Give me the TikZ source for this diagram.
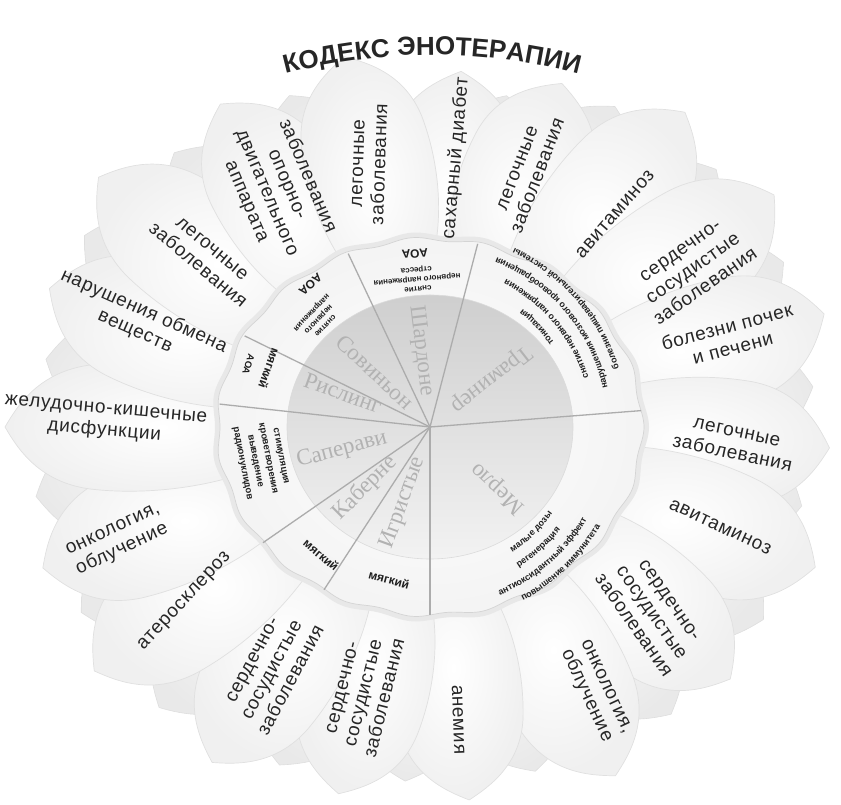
\documentclass[tikz,border=0pt]{standalone}
\usepackage{fontspec}
\setmainfont{Liberation Sans}
\newfontfamily\petalfont[LetterSpace=4]{Liberation Sans}
\newfontfamily\namefont{Liberation Serif}
\usetikzlibrary{decorations.text,calc}

\begin{document}
\begin{tikzpicture}[x=1pt,y=1pt,
  petal/.style={draw=gray!24, line width=0.7pt, inner color=white, outer color=gray!12},
  backpetal/.style={draw=gray!26, line width=0.6pt, inner color=gray!4, outer color=gray!17},
  petaltext/.style={font=\petalfont\fontsize{19}{22}\selectfont, text=black!85, align=center, inner sep=0pt},
  sectorname/.style={font=\namefont\fontsize{23}{23}\selectfont, text=gray!60, inner sep=0pt},
  ringsmall/.style={font=\bfseries\fontsize{8}{9.5}\selectfont, text=black!88, align=center, inner sep=0pt},
  ringmid/.style={font=\bfseries\fontsize{9.5}{13}\selectfont, text=black!88, align=center, inner sep=0pt},
  ringbig/.style={font=\bfseries\fontsize{12}{14}\selectfont, text=black!88, align=center, inner sep=0pt},
  sectorline/.style={draw=gray!65, line width=1.3pt},
  arctext/.style={decorate, decoration={text along path, text align=center, text={|\bfseries\fontsize{9}{10}\selectfont\color{black!88}|#1}}},
]
\useasboundingbox (0,0) rectangle (841,805);
\coordinate (C) at (430,378);
\coordinate (TC) at (432,176);

% second row of petals, peeking out between the front ones
\foreach \a/\R in {77/340, 60/370, 42/385, 25/390, 6/385, -12/380, -30/385, -50/375, -73/360, -94/355, -114/370, -134/390, -152/395, -170/400, 170/390, 151/395, 133/375, 113/360, 94/330}{
  \begin{scope}[shift={(C)}, rotate=\a]
    \shade[backpetal] (110,0) .. controls (150,48) and ({0.6*\R},72) .. ({0.8*\R},62)
      .. controls ({0.92*\R},55) and ({0.97*\R},22) .. (\R,0)
      .. controls ({0.97*\R},-22) and ({0.92*\R},-55) .. ({0.8*\R},-62)
      .. controls ({0.6*\R},-72) and (150,-48) .. (110,0) -- cycle;
  \end{scope}
}

% front petals
\foreach \a/\R in {85/357, 69/368, 51/405, 34/415, 16/410, -3/400, -20/410, -40/392, -62/395, -84/375, -104/378, -123/400, -144/415, -160/412, 180/425, 160/405, 143/415, 123/385, 103/380}{
  \begin{scope}[shift={(C)}, rotate=\a]
    \shade[petal] (110,0) .. controls (150,48) and ({0.6*\R},72) .. ({0.8*\R},62)
      .. controls ({0.92*\R},55) and ({0.97*\R},22) .. (\R,0)
      .. controls ({0.97*\R},-22) and ({0.92*\R},-55) .. ({0.8*\R},-62)
      .. controls ({0.6*\R},-72) and (150,-48) .. (110,0) -- cycle;
  \end{scope}
}

\begin{scope}[shift={(C)}]
  % outer ring with its soft rim
  \fill[gray!18] plot[domain=0:360, samples=361] ({(217+2*cos(19*\x))*cos(\x)}, {(193+2*cos(19*\x))*sin(\x)}) -- cycle;
  \shadedraw[inner color=white, outer color=gray!9, draw=gray!34, line width=0.7pt]
    plot[domain=0:360, samples=361] ({(212+2*cos(19*\x))*cos(\x)}, {(188+2*cos(19*\x))*sin(\x)}) -- cycle;
  % inner disc
  \shade[top color=gray!38, bottom color=gray!10] (0,0) ellipse [x radius=143, y radius=132];
  \draw[gray!28, line width=0.6pt] (0,0) ellipse [x radius=143, y radius=132];

  % sector boundaries
  \foreach \a [count=\i] in {5,77,112.7,151,173,218,240,270}{
    \coordinate (e\i) at (\a:212 and 188);
    \draw[sectorline] (C) -- (e\i);
  }

  % grape varieties
  \node[sectorname, rotate=15]  (saperavi) at (-88,-23) {Саперави};
  \node[sectorname, rotate=-20] (riesling) at (-87,34) {Рислинг};
  \node[sectorname, rotate=-43] (sauvignon) at (-55,55) {Совиньон};
  \node[sectorname, rotate=-83] (chardonnay) at (-9,76) {Шардоне};
  \node[sectorname, rotate=218] (traminer) at (61,48) {Траминер};
  \node[sectorname, rotate=137] (merlot) at (68,-61) {Мерло};
  \node[sectorname, rotate=70]  (sparkling) at (-27,-76) {Игристые};
  \node[sectorname, rotate=45]  (cabernet) at (-65,-61) {Каберне};

  % effects written in the ring
  \node[ringbig, rotate=185] (aoa1) at (95:174) {АОА};
  \node[ringsmall, rotate=185] (chtext) at (95:149) {снятие\\нервного напряжения\\стресса};
  \node[ringbig, rotate=221] (aoa2) at (130:186) {АОА};
  \node[ringsmall, rotate=226] (svtext) at (136:156) {снятие\\нервного\\напряжения};
  \node[ringmid, rotate=252] (aoa3) at (161:192) {АОА};
  \node[ringbig, rotate=250] (rsoft) at (160:171) {мягкий};
  \node[ringmid, rotate=281] (sptext) at (191:172) {стимуляция\\кроветворения\\выведение\\радионуклидов};
  \node[ringbig, rotate=-40] (cbsoft) at (229.6:168) {мягкий};
  \node[ringbig, rotate=-15] (igsoft) at (255:158) {мягкий};
\end{scope}

% curved lines of the Traminer and Merlot sectors
\path[arctext={тонизация}] ($(C)+(28:150)$) arc[start angle=28, end angle=58, radius=150];
\path[arctext={снятие нервного напряжения}] ($(C)+(6:166)$) arc[start angle=6, end angle=74, radius=166];
\path[arctext={нарушения мозгового кровообращения}] ($(C)+(5:182)$) arc[start angle=5, end angle=76, radius=182];
\path[arctext={болезни пищеварительной системы}] ($(C)+(8:198)$) arc[start angle=8, end angle=74, radius=198];

\path[arctext={малые дозы}] ($(C)+(-66:150)$) arc[start angle=-66, end angle=-26, radius=150];
\path[arctext={регенерация}] ($(C)+(-68:166)$) arc[start angle=-68, end angle=-28, radius=166];
\path[arctext={антиоксидантный эффект}] ($(C)+(-82:182)$) arc[start angle=-82, end angle=-16, radius=182];
\path[arctext={повышение иммунитета}] ($(C)+(-72:197)$) arc[start angle=-72, end angle=-20, radius=197];

% indications on the petals
\begin{scope}[shift={(C)}]
  \node[petaltext, rotate=85]  (t1)  at (84.5:270) {сахарный диабет};
  \node[petaltext, rotate=69]  (t2)  at (69:273) {легочные\\заболевания};
  \node[petaltext, rotate=49]  (t3)  at (49:282) {авитаминоз};
  \node[petaltext, rotate=35]  (t4)  at (31:307) {сердечно-\\сосудистые\\заболевания};
  \node[petaltext, rotate=15]  (t5)  at (16.7:313) {болезни почек\\и печени};
  \node[petaltext, rotate=-12] (t6)  at (-3:305) {легочные\\заболевания};
  \node[petaltext, rotate=-25] (t7)  at (-19:307) {авитаминоз};
  \node[petaltext, rotate=-55] (t8)  at (-40:289) {сердечно-\\сосудистые\\заболевания};
  \node[petaltext, rotate=-65] (t9)  at (-58:312) {онкология,\\облучение};
  \node[petaltext, rotate=-88] (t10) at (-84.5:294) {анемия};
  \node[petaltext, rotate=76]  (t11) at (-104:274) {сердечно-\\сосудистые\\заболевания};
  \node[petaltext, rotate=62]  (t12) at (-123:290) {сердечно-\\сосудистые\\заболевания};
  \node[petaltext, rotate=47]  (t13) at (-144.5:301) {атеросклероз};
  \node[petaltext, rotate=25]  (t14) at (-160:332) {онкология,\\облучение};
  \node[petaltext, rotate=-5]  (t15) at (-181:325) {желудочно-кишечные\\дисфункции};
  \node[petaltext, rotate=-24] (t16) at (160:309) {нарушения обмена\\веществ};
  \node[petaltext, rotate=-40] (t17) at (143:282) {легочные\\заболевания};
  \node[petaltext, rotate=-67] (t18) at (122.7:283) {заболевания\\опорно-\\двигательного\\аппарата};
  \node[petaltext, rotate=88]  (t19) at (103:270) {легочные\\заболевания};
\end{scope}

% title along an arc
\path[decorate, decoration={text along path, text align=center,
  text={|\bfseries\fontsize{26}{26}\selectfont\color{black!85}|КОДЕКС ЭНОТЕРАПИИ}}]
  ($(TC)+(108:574)$) arc[start angle=108, end angle=72, radius=574];
\end{tikzpicture}
\end{document}
